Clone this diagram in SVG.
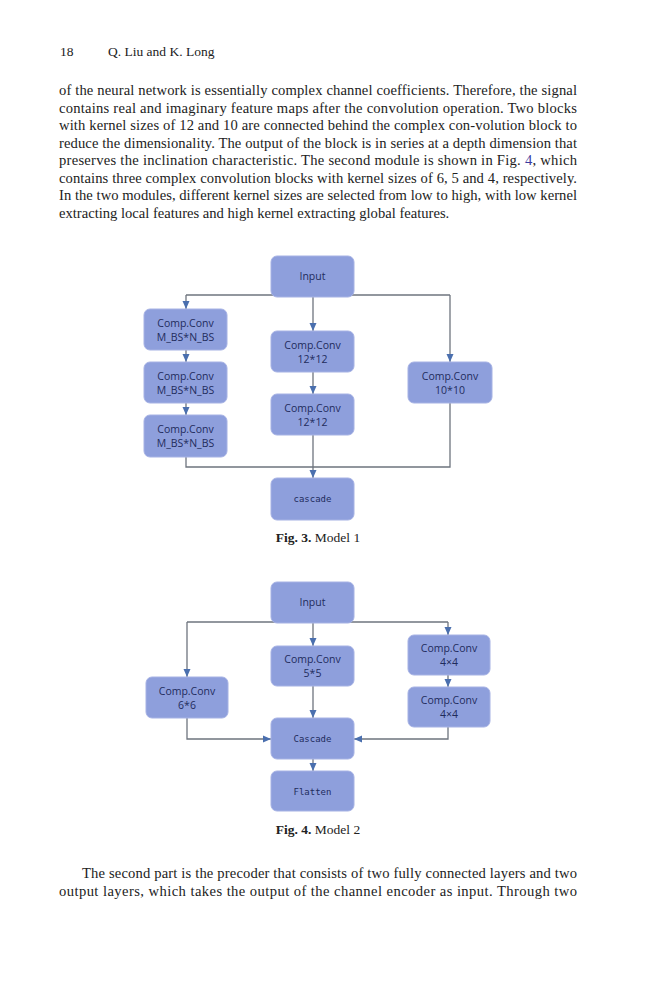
<svg xmlns="http://www.w3.org/2000/svg" width="659" height="1000" viewBox="0 0 659 1000">
<defs>
<marker id="ah" markerUnits="userSpaceOnUse" markerWidth="8" markerHeight="8" refX="8" refY="4" orient="auto">
<path d="M0,0.5 L8,4 L0,7.5 z" fill="#4a6fae"/>
</marker>
<style>
.body{font-family:"Liberation Serif","Times New Roman",serif;font-size:14.6px;fill:#222}
.hdr{font-family:"Liberation Serif","Times New Roman",serif;font-size:13.5px;fill:#222}
.cap{font-family:"Liberation Serif","Times New Roman",serif;font-size:13.5px;fill:#222}
.box{fill:#8e9fdc;stroke:#a6b2e4;stroke-width:1}
.lbl{font-family:"Open Sans","Noto Sans",sans-serif;font-size:10.5px;fill:#1f2c5c;text-anchor:middle}
.mono{font-family:"DejaVu Sans Mono","Liberation Mono",monospace;font-size:9px;fill:#1f2c5c;text-anchor:middle}
.ln{fill:none;stroke:#6e747e;stroke-width:1.3}
.ar{fill:none;stroke:#6e747e;stroke-width:1.3;marker-end:url(#ah)}
</style>
</defs>
<rect width="659" height="1000" fill="#ffffff"/>
<g id="page-text">
<text class="hdr" x="60" y="56">18</text>
<text class="hdr" x="108" y="56">Q. Liu and K. Long</text>
<text class="body" x="59" y="95" textLength="518" lengthAdjust="spacing">of the neural network is essentially complex channel coefficients. Therefore, the signal</text>
<text class="body" x="59" y="112.5" textLength="518" lengthAdjust="spacing">contains real and imaginary feature maps after the convolution operation. Two blocks</text>
<text class="body" x="59" y="130" textLength="518" lengthAdjust="spacing">with kernel sizes of 12 and 10 are connected behind the complex con-volution block to</text>
<text class="body" x="59" y="147.5" textLength="518" lengthAdjust="spacing">reduce the dimensionality. The output of the block is in series at a depth dimension that</text>
<text class="body" x="59" y="165" textLength="518" lengthAdjust="spacing">preserves the inclination characteristic. The second module is shown in Fig. <tspan fill="#3a3aa0">4</tspan>, which</text>
<text class="body" x="59" y="182.5" textLength="518" lengthAdjust="spacing">contains three complex convolution blocks with kernel sizes of 6, 5 and 4, respectively.</text>
<text class="body" x="59" y="200" textLength="518" lengthAdjust="spacing">In the two modules, different kernel sizes are selected from low to high, with low kernel</text>
<text class="body" x="59" y="217.5">extracting local features and high kernel extracting global features.</text>
<text class="cap" x="318" y="542" text-anchor="middle"><tspan font-weight="bold">Fig. 3.</tspan>  Model 1</text>
<text class="cap" x="318" y="834" text-anchor="middle"><tspan font-weight="bold">Fig. 4.</tspan>  Model 2</text>
<text class="body" x="82" y="878" textLength="495" lengthAdjust="spacing">The second part is the precoder that consists of two fully connected layers and two</text>
<text class="body" x="59" y="895.5" textLength="518" lengthAdjust="spacing">output layers, which takes the output of the channel encoder as input. Through two</text>
</g>
<g id="connectors">
<path class="ln" d="M186,295 H450"/>
<path class="ar" d="M186,295 V309"/>
<path class="ar" d="M450,295 V362"/>
<path class="ar" d="M313,297 V331"/>
<path class="ar" d="M186,350 V362"/>
<path class="ar" d="M186,403 V415"/>
<path class="ar" d="M313,372 V394"/>
<path class="ln" d="M186,457 V467 H450 V403"/>
<path class="ar" d="M313,435 V478"/>
<path class="ln" d="M187,622 H448"/>
<path class="ar" d="M187,622 V677"/>
<path class="ar" d="M448,622 V635"/>
<path class="ar" d="M313,623 V646"/>
<path class="ar" d="M448,675 V687"/>
<path class="ar" d="M313,686 V718"/>
<path class="ar" d="M187,718 V739 H271"/>
<path class="ar" d="M448,727 V739 H354"/>
<path class="ar" d="M313,759 V771"/>
</g>
<g id="f3-input"><rect class="box" x="271" y="256" width="83" height="41" rx="6"/><text class="lbl" x="312.5" y="280">Input</text></g>
<g id="f3-l1"><rect class="box" x="144" y="309" width="83" height="41" rx="6"/><text class="lbl" x="185.5" y="326.5">Comp.Conv</text><text class="lbl" x="185.5" y="340.5">M_BS*N_BS</text></g>
<g id="f3-l2"><rect class="box" x="144" y="362" width="83" height="41" rx="6"/><text class="lbl" x="185.5" y="379.5">Comp.Conv</text><text class="lbl" x="185.5" y="393.5">M_BS*N_BS</text></g>
<g id="f3-l3"><rect class="box" x="144" y="415" width="83" height="42" rx="6"/><text class="lbl" x="185.5" y="433">Comp.Conv</text><text class="lbl" x="185.5" y="447">M_BS*N_BS</text></g>
<g id="f3-c1"><rect class="box" x="271" y="331" width="83" height="41" rx="6"/><text class="lbl" x="312.5" y="348.5">Comp.Conv</text><text class="lbl" x="312.5" y="362.5">12*12</text></g>
<g id="f3-c2"><rect class="box" x="271" y="394" width="83" height="41" rx="6"/><text class="lbl" x="312.5" y="411.5">Comp.Conv</text><text class="lbl" x="312.5" y="425.5">12*12</text></g>
<g id="f3-r"><rect class="box" x="408" y="362" width="84" height="41" rx="6"/><text class="lbl" x="450" y="379.5">Comp.Conv</text><text class="lbl" x="450" y="393.5">10*10</text></g>
<g id="f3-cascade"><rect class="box" x="271" y="478" width="83" height="42" rx="6"/><text class="mono" x="312.5" y="502">cascade</text></g>
<g id="f4-input"><rect class="box" x="271" y="582" width="83" height="41" rx="6"/><text class="lbl" x="312.5" y="606">Input</text></g>
<g id="f4-c"><rect class="box" x="271" y="646" width="83" height="40" rx="6"/><text class="lbl" x="312.5" y="662.5">Comp.Conv</text><text class="lbl" x="312.5" y="676.5">5*5</text></g>
<g id="f4-l"><rect class="box" x="146" y="677" width="82" height="41" rx="6"/><text class="lbl" x="187" y="694.5">Comp.Conv</text><text class="lbl" x="187" y="708.5">6*6</text></g>
<g id="f4-r1"><rect class="box" x="408" y="635" width="82" height="40" rx="6"/><text class="lbl" x="449" y="651.5">Comp.Conv</text><text class="lbl" x="449" y="665.5">4×4</text></g>
<g id="f4-r2"><rect class="box" x="408" y="687" width="82" height="40" rx="6"/><text class="lbl" x="449" y="703.5">Comp.Conv</text><text class="lbl" x="449" y="717.5">4×4</text></g>
<g id="f4-cascade"><rect class="box" x="271" y="718" width="83" height="41" rx="6"/><text class="mono" x="312.5" y="742">Cascade</text></g>
<g id="f4-flatten"><rect class="box" x="271" y="771" width="83" height="40" rx="6"/><text class="mono" x="312.5" y="795">Flatten</text></g>
</svg>
